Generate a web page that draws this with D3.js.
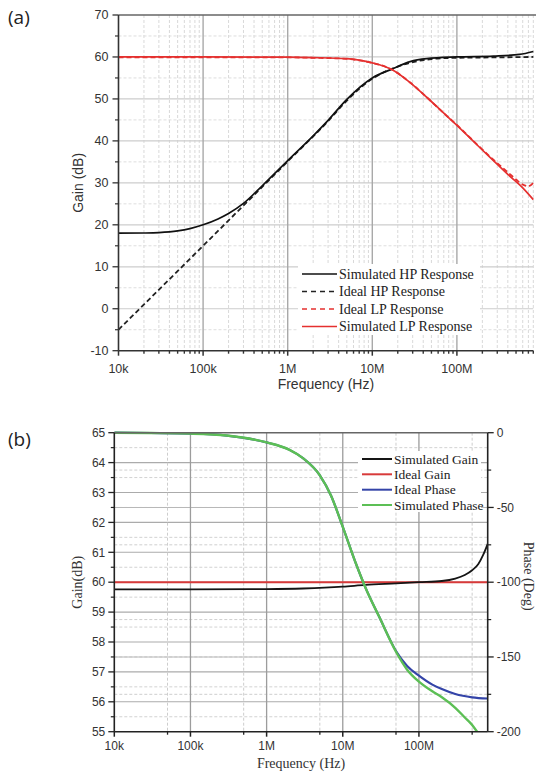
<!DOCTYPE html>
<html><head><meta charset="utf-8">
<script src="https://cdn.jsdelivr.net/npm/d3@7"></script>
<style>body{margin:0;background:#fff}svg{display:block}</style>
</head><body>
<script>
// ---------- DATA (panel a) ----------
const hpFreq = [1e4, 2e4, 3e4, 5e4, 7e4, 1e5, 1.5e5, 2e5, 3e5, 5e5, 1e6, 2e6, 3e6, 5e6, 1e7, 1.7e7, 2.8e7, 4.4e7, 1e8, 2.7e8, 5.5e8, 8e8];
const simHP  = [18.0, 18.05, 18.15, 18.55, 19.1, 20.0, 21.4, 22.7, 25.1, 29.3, 35.3, 41.2, 44.9, 49.9, 55.0, 57.1, 58.9, 59.6, 60.0, 60.2, 60.6, 61.3];
const ihpFreq = [1e4, 1e5, 1e6, 3e6, 5e6, 1e7, 2e7, 5e7, 1e8, 3e8, 8e8];
const idealHP = [-5, 15, 35.1, 44.7, 49.6, 54.8, 57.7, 59.5, 59.8, 59.9, 60.0];
const lpFreq = [1e4, 1e5, 1e6, 2e6, 5e6, 7e6, 1e7, 1.7e7, 2.8e7, 4.4e7, 7e7, 1e8, 1.7e8, 2.7e8, 4e8, 6e8, 8e8];
const simLP  = [60, 60, 59.95, 59.85, 59.6, 59.25, 58.6, 57.0, 53.9, 50.4, 46.6, 43.7, 39.2, 35.3, 32.0, 28.8, 26.0];
const ilpFreq = [1e4, 1e5, 1e6, 2e6, 5e6, 7e6, 1e7, 1.7e7, 2.8e7, 4.4e7, 7e7, 1e8, 1.7e8, 2.7e8, 4e8, 5e8, 6e8, 7e8, 8e8];
const idealLP = [59.9, 59.9, 59.9, 59.8, 59.55, 59.2, 58.6, 57.0, 53.9, 50.4, 46.6, 43.8, 39.3, 35.5, 32.5, 30.8, 29.6, 29.2, 30.0];
const aLegend = ["Simulated HP Response", "Ideal HP Response", "Ideal LP Response", "Simulated LP Response"];

// ---------- DATA (panel b) ----------
const gainFreq = [1e4, 1e5, 1e6, 3e6, 1e7, 2e7, 5e7, 1e8, 2e8, 3e8, 4e8, 5e8, 6e8, 7e8, 8e8];
const simGain  = [59.76, 59.76, 59.77, 59.79, 59.85, 59.91, 59.96, 60.0, 60.04, 60.12, 60.24, 60.4, 60.6, 60.92, 61.28];
const idealGainFreq = [1e4, 8e8];
const idealGain = [60, 60];
const phFreq = [1e4, 3e4, 1e5, 3e5, 1e6, 2e6, 3e6, 5e6, 7e6, 1e7, 1.5e7, 2e7, 3e7, 5e7, 7e7, 1e8, 1.5e8, 2e8, 3e8, 5e8, 8e8];
const idealPhase = [0, -0.2, -0.6, -1.9, -6.5, -11.5, -17, -28.5, -42, -63, -88, -104, -123, -146, -156, -162.5, -168.5, -171.5, -174.8, -177, -177.8];
const sphFreq = [1e4, 3e4, 1e5, 3e5, 1e6, 2e6, 3e6, 5e6, 7e6, 1e7, 1.5e7, 2e7, 3e7, 5e7, 7e7, 1e8, 1.5e8, 2e8, 3e8, 4e8, 5e8, 5.8e8];
const simPhase = [0, -0.2, -0.6, -1.9, -6.5, -11.5, -17, -28.5, -42, -63, -88, -104, -123, -146.5, -158.5, -166.5, -173, -177, -184, -190.5, -195.5, -200];
const bLegend = ["Simulated Gain", "Ideal Gain", "Ideal Phase", "Simulated Phase"];

// ---------- TICKS ----------
const xMajor = [1e4, 1e5, 1e6, 1e7, 1e8];
const xLabels = ["10k", "100k", "1M", "10M", "100M"];
const aYTicks = [-10, 0, 10, 20, 30, 40, 50, 60, 70];
const bYTicks = [55, 56, 57, 58, 59, 60, 61, 62, 63, 64, 65];
const bPTicks = [0, -50, -100, -150, -200];

const SANS = "'Liberation Sans', Arial, sans-serif";
const SERIF = "'Liberation Serif', 'Times New Roman', serif";

const svg = d3.select("body").append("svg").attr("width", 536).attr("height", 774);

function hline(g, x1, x2, y, stroke, w, dash) {
  g.append("line").attr("x1", x1).attr("x2", x2).attr("y1", y).attr("y2", y)
    .attr("stroke", stroke).attr("stroke-width", w).attr("stroke-dasharray", dash || null);
}
function vline(g, x, y1, y2, stroke, w, dash) {
  g.append("line").attr("x1", x).attr("x2", x).attr("y1", y1).attr("y2", y2)
    .attr("stroke", stroke).attr("stroke-width", w).attr("stroke-dasharray", dash || null);
}
function minorDecades(mults) {
  const out = [];
  for (let e = 4; e <= 8; e++) for (const m of mults) { const v = m * Math.pow(10, e); if (v <= 8e8) out.push(v); }
  return out;
}

// =============== PANEL (a) ===============
{
  const L = 118.5, R = 533.3, T = 15, B = 350.7;
  const x = d3.scaleLog().domain([1e4, 8e8]).range([L, R]);
  const y = d3.scaleLinear().domain([-10, 70]).range([B, T]);
  const g = svg.append("g");
  const minors = minorDecades([2, 3, 4, 5, 6, 7, 8, 9]);

  // grid
  minors.forEach(f => vline(g, x(f), T, B, "#d9d9d9", 1, "3,2"));
  for (let v = -5; v < 70; v += 10) hline(g, L, R, y(v), "#dedede", 1, "3,2");
  for (let v = 0; v < 70; v += 10) hline(g, L, R, y(v), "#cdcdcd", 1.2);
  xMajor.slice(1).forEach(f => vline(g, x(f), T, B, "#a9a9a9", 1.4));

  // curves
  svg.append("clipPath").attr("id", "clipA").append("rect")
    .attr("x", L).attr("y", T).attr("width", R - L + 2).attr("height", B - T);
  const cg = g.append("g").attr("clip-path", "url(#clipA)");
  const line = d3.line().x(d => x(d[0])).y(d => y(d[1])).curve(d3.curveMonotoneX);
  const zip = (a, b) => a.map((v, i) => [v, b[i]]);
  cg.append("path").attr("d", line(zip(ihpFreq, idealHP))).attr("fill", "none")
    .attr("stroke", "#222").attr("stroke-width", 1.8).attr("stroke-dasharray", "5,3");
  cg.append("path").attr("d", line(zip(hpFreq, simHP))).attr("fill", "none")
    .attr("stroke", "#111").attr("stroke-width", 1.7);
  cg.append("path").attr("d", line(zip(ilpFreq, idealLP))).attr("fill", "none")
    .attr("stroke", "#e5302f").attr("stroke-width", 1.8).attr("stroke-dasharray", "5,3");
  cg.append("path").attr("d", line(zip(lpFreq, simLP))).attr("fill", "none")
    .attr("stroke", "#e5302f").attr("stroke-width", 1.7);

  // frame
  hline(g, L, 536, T, "#666", 1.6);
  vline(g, L, T, B, "#333", 1.6);
  hline(g, L, R, B, "#333", 1.6);

  // y ticks
  aYTicks.forEach(v => {
    hline(g, L - 6, L, y(v), "#333", 1.3);
    g.append("text").attr("x", L - 10).attr("y", y(v)).attr("dy", "0.35em").attr("text-anchor", "end")
      .attr("font-family", SANS).attr("font-size", 12.5).attr("fill", "#333").text(v);
  });
  for (let v = -5; v < 70; v += 10) hline(g, L - 3.5, L, y(v), "#333", 1.2);
  // x ticks
  xMajor.forEach((f, i) => {
    vline(g, x(f), B, B + 5, "#333", 1.5);
    g.append("text").attr("x", x(f)).attr("y", B + 22).attr("text-anchor", "middle")
      .attr("font-family", SANS).attr("font-size", 12.5).attr("fill", "#333").text(xLabels[i]);
  });
  minors.forEach(f => vline(g, x(f), B, B + 3, "#333", 1.4));

  // titles
  g.append("text").attr("transform", `translate(83,${(T + B) / 2}) rotate(-90)`).attr("text-anchor", "middle")
    .attr("font-family", SANS).attr("font-size", 14).attr("fill", "#333").text("Gain (dB)");
  g.append("text").attr("x", (L + R) / 2).attr("y", 389).attr("text-anchor", "middle")
    .attr("font-family", SANS).attr("font-size", 14).attr("fill", "#333").text("Frequency (Hz)");

  // legend
  const lg = g.append("g");
  lg.append("rect").attr("x", 298).attr("y", 264).attr("width", 182).attr("height", 71).attr("fill", "#fff");
  const styles = [["#111", null], ["#222", "5,4"], ["#e5302f", "5,4"], ["#e5302f", null]];
  const rows = [274, 291.5, 309, 326.5];
  aLegend.forEach((t, i) => {
    lg.append("line").attr("x1", 302).attr("x2", 337).attr("y1", rows[i]).attr("y2", rows[i])
      .attr("stroke", styles[i][0]).attr("stroke-width", 1.7).attr("stroke-dasharray", styles[i][1]);
    lg.append("text").attr("x", 339).attr("y", rows[i]).attr("dy", "0.35em")
      .attr("font-family", SERIF).attr("font-size", 14).attr("fill", "#222").text(t);
  });

  svg.append("text").attr("x", 8).attr("y", 24).attr("font-family", "'Open Sans', sans-serif")
    .attr("font-size", 19).attr("fill", "#222").text("(a)");
}

// =============== PANEL (b) ===============
{
  const L = 114.3, R = 487.7, T = 432.7, B = 731.7;
  const x = d3.scaleLog().domain([1e4, 8e8]).range([L, R]);
  const y = d3.scaleLinear().domain([55, 65]).range([B, T]);
  const yp = d3.scaleLinear().domain([-200, 0]).range([B, T]);
  const g = svg.append("g");
  const fives = minorDecades([5]);

  // grid
  for (let v = 55.5; v < 65; v += 1) hline(g, L, R, y(v), "#d2d2d2", 1, "3,2");
  [-25, -75, -125, -175].forEach(v => hline(g, L, R, yp(v), "#cfcfcf", 1, "3,2"));
  for (let v = 56; v < 65; v += 1) hline(g, L, R, y(v), "#ababab", 1.1);
  [-50, -100, -150].forEach(v => hline(g, L, R, yp(v), "#b8b8b8", 1.1));
  fives.forEach(f => vline(g, x(f), T, B, "#cdcdcd", 1, "3,2"));
  xMajor.slice(1).forEach(f => vline(g, x(f), T, B, "#9c9c9c", 1.3));

  svg.append("clipPath").attr("id", "clipB").append("rect")
    .attr("x", L).attr("y", T - 2).attr("width", R - L).attr("height", B - T + 2);
  const cg = g.append("g").attr("clip-path", "url(#clipB)");
  const gl = d3.line().x(d => x(d[0])).y(d => y(d[1])).curve(d3.curveMonotoneX);
  const pl = d3.line().x(d => x(d[0])).y(d => yp(d[1])).curve(d3.curveMonotoneX);
  const zip = (a, b) => a.map((v, i) => [v, b[i]]);
  cg.append("path").attr("d", gl(zip(idealGainFreq, idealGain))).attr("fill", "none")
    .attr("stroke", "#d83a3a").attr("stroke-width", 2);
  cg.append("path").attr("d", gl(zip(gainFreq, simGain))).attr("fill", "none")
    .attr("stroke", "#151515").attr("stroke-width", 1.8);
  cg.append("path").attr("d", pl(zip(phFreq, idealPhase))).attr("fill", "none")
    .attr("stroke", "#3444a8").attr("stroke-width", 2.2);
  cg.append("path").attr("d", pl(zip(sphFreq, simPhase))).attr("fill", "none")
    .attr("stroke", "#5cbf55").attr("stroke-width", 2.4);

  // frame
  hline(g, L, R, T, "#666", 1.4);
  vline(g, L, T, B, "#222", 1.6);
  vline(g, R, T, B, "#222", 1.6);
  hline(g, L, R, B, "#222", 1.6);

  // left ticks
  bYTicks.forEach(v => {
    hline(g, L - 6, L, y(v), "#222", 1.3);
    g.append("text").attr("x", L - 9).attr("y", y(v)).attr("dy", "0.35em").attr("text-anchor", "end")
      .attr("font-family", SANS).attr("font-size", 12).attr("fill", "#333").text(v);
  });
  for (let v = 55.5; v < 65; v += 1) hline(g, L - 3.5, L, y(v), "#222", 1.2);
  // right ticks
  bPTicks.forEach(v => {
    hline(g, R, R + 6, yp(v), "#222", 1.3);
    g.append("text").attr("x", R + 9).attr("y", yp(v)).attr("dy", "0.35em").attr("text-anchor", "start")
      .attr("font-family", SANS).attr("font-size", 12).attr("fill", "#333").text(v);
  });
  [-25, -75, -125, -175].forEach(v => hline(g, R, R + 3.5, yp(v), "#222", 1.2));
  // bottom ticks
  xMajor.forEach((f, i) => {
    vline(g, x(f), B, B + 5, "#222", 1.5);
    g.append("text").attr("x", x(f)).attr("y", B + 18).attr("text-anchor", "middle")
      .attr("font-family", SANS).attr("font-size", 12).attr("fill", "#333").text(xLabels[i]);
  });
  fives.forEach(f => vline(g, x(f), B, B + 3, "#222", 1.3));

  // titles
  g.append("text").attr("transform", `translate(82,${(T + B) / 2}) rotate(-90)`).attr("text-anchor", "middle")
    .attr("font-family", SERIF).attr("font-size", 14).attr("fill", "#333").text("Gain(dB)");
  g.append("text").attr("transform", `translate(524,${(T + B) / 2 - 6}) rotate(90)`).attr("text-anchor", "middle")
    .attr("font-family", SERIF).attr("font-size", 14).attr("fill", "#333").text("Phase (Deg)");
  g.append("text").attr("x", (L + R) / 2).attr("y", 768).attr("text-anchor", "middle")
    .attr("font-family", SERIF).attr("font-size", 14).attr("fill", "#333").text("Frequency (Hz)");

  // legend
  const lg = g.append("g");
  lg.append("rect").attr("x", 358).attr("y", 451).attr("width", 123).attr("height", 61).attr("fill", "#fff");
  const cols = ["#151515", "#d83a3a", "#3444a8", "#5cbf55"];
  const rows = [459, 474.3, 489.7, 505];
  bLegend.forEach((t, i) => {
    lg.append("line").attr("x1", 362).attr("x2", 392).attr("y1", rows[i]).attr("y2", rows[i])
      .attr("stroke", cols[i]).attr("stroke-width", 2);
    lg.append("text").attr("x", 394).attr("y", rows[i]).attr("dy", "0.35em")
      .attr("font-family", SERIF).attr("font-size", 13.5).attr("fill", "#222").text(t);
  });

  svg.append("text").attr("x", 8).attr("y", 446).attr("font-family", "'Open Sans', sans-serif")
    .attr("font-size", 19).attr("fill", "#222").text("(b)");
}
</script>
</body></html>
